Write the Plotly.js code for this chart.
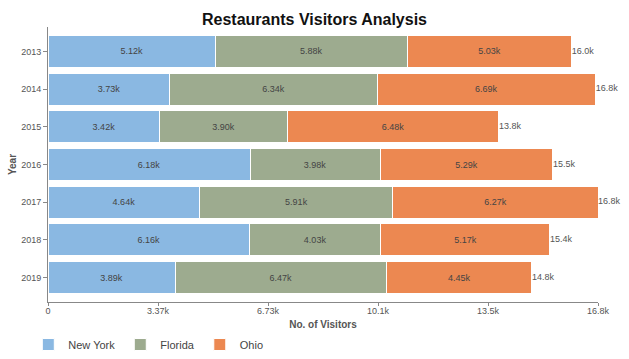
<!DOCTYPE html>
<html>
<head>
<meta charset="utf-8">
<script src="https://cdn.plot.ly/plotly-3.0.1.min.js"></script>
<style>html,body{margin:0;padding:0;background:#fff;}#chart{width:629px;height:359px;}</style>
</head>
<body>
<div id="chart"></div>
<script>
var years = ['2013','2014','2015','2016','2017','2018','2019'];
var newYork = [5120, 3730, 3420, 6182, 4644, 6160, 3890];
var florida = [5880, 6340, 3900, 3980, 5914, 4030, 6470];
var ohio    = [5030, 6690, 6480, 5290, 6274, 5170, 4450];
var seriesNames = ['New York', 'Florida', 'Ohio'];
var xTickText = ['0', '3.37k', '6.73k', '10.1k', '13.5k', '16.8k'];

var colors = ['#8ab8e2', '#9dab8f', '#ec8851'];
var series = [newYork, florida, ohio];
var totals = years.map(function(_, i){ return newYork[i] + florida[i] + ohio[i]; });
var maxTotal = Math.max.apply(null, totals);
var tickVals = xTickText.map(function(_, i){ return maxTotal * i / 5; });

function fmtK(v){
  var k = v / 1000;
  return (k >= 10 ? k.toFixed(1) : k.toFixed(2)) + 'k';
}

var traces = series.map(function(vals, k){
  return {
    type: 'bar', orientation: 'h',
    name: seriesNames[k], x: vals, y: years,
    marker: {color: colors[k], line: {color: '#ffffff', width: 1}},
    texttemplate: '%{x:.3s}', textposition: 'inside', insidetextanchor: 'middle',
    textfont: {family: 'Liberation Sans, Arial, sans-serif', size: 9, color: '#444444'},
    hoverinfo: 'x+name'
  };
});
traces.push({
  type: 'scatter', mode: 'text', x: totals, y: years, showlegend: false,
  text: totals.map(fmtK),
  textposition: 'middle right',
  textfont: {family: 'Liberation Sans, Arial, sans-serif', size: 9, color: '#555555'},
  hoverinfo: 'skip', cliponaxis: false
});

var layout = {
  width: 629, height: 359,
  margin: {l: 48, r: 31, t: 27, b: 57},
  paper_bgcolor: '#ffffff', plot_bgcolor: '#ffffff',
  barmode: 'stack', bargap: 0.15,
  font: {family: 'Liberation Sans, Arial, sans-serif', size: 9, color: '#555555'},
  title: {text: '<b>Restaurants Visitors Analysis</b>', x: 0.5, xanchor: 'center', yref: 'container', y: 0.945, yanchor: 'middle',
          font: {family: 'Liberation Sans, Arial, sans-serif', size: 16, color: '#111111'}},
  xaxis: {
    range: [0, maxTotal], tickvals: tickVals, ticktext: xTickText,
    showgrid: false, zeroline: false, showline: true, linecolor: '#888888', linewidth: 1,
    ticks: 'outside', ticklen: 3, tickcolor: '#888888', ticklabelstandoff: -3,
    tickfont: {size: 9, color: '#555555'},
    title: {text: '<b>No. of Visitors</b>', standoff: 10, font: {size: 10, color: '#555555'}}
  },
  yaxis: {
    type: 'category', range: [6.65, -0.65],
    showgrid: false, zeroline: false, showline: true, linecolor: '#888888', linewidth: 1,
    ticks: 'outside', ticklen: 4, tickcolor: '#888888',
    tickfont: {size: 9, color: '#555555'},
    title: {text: '<b>Year</b>', standoff: 2, font: {size: 10, color: '#555555'}}
  },
  legend: {orientation: 'h', xref: 'container', yref: 'container', x: 0.045, xanchor: 'left', y: 0.0, yanchor: 'bottom',
           font: {size: 11, color: '#444444'}, traceorder: 'normal'},
  showlegend: true
};

Plotly.newPlot('chart', traces, layout, {displayModeBar: false, staticPlot: true});
</script>
</body>
</html>
